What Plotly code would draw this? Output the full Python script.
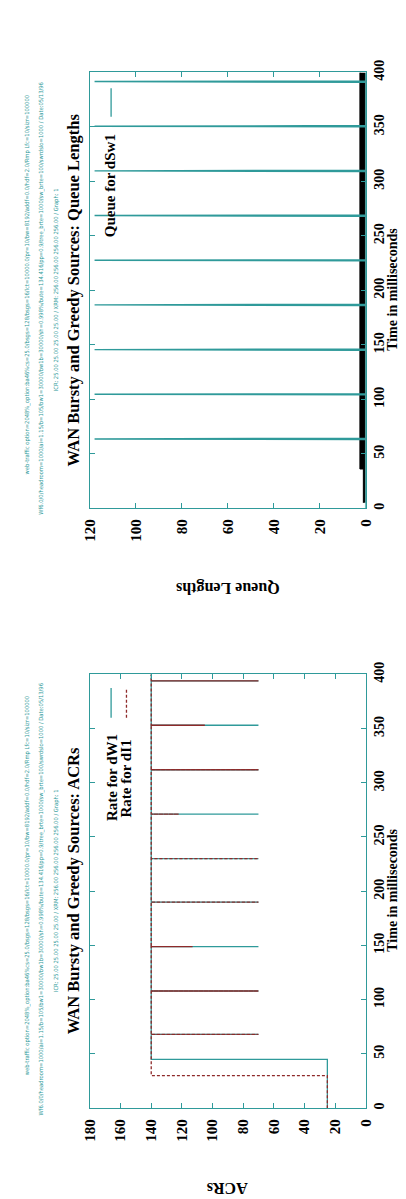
import plotly.graph_objects as go

# ---------------- data ----------------
# ACR chart (time in ms, rate values)
acr_end_time = 400
dW1_start_value = 25
dW1_jump_time = 45
dW1_steady = 140
dI1_start_value = 25
dI1_jump_time = 30
dI1_steady = 140
acr_spike_times = [68, 108, 149, 190, 230, 271, 312, 353, 394]
dW1_spike_lows = [70, 70, 70, 70, 70, 70, 70, 70, 70]
dI1_spike_lows = [70, 70, 113, 70, 70, 122, 70, 105, 70]

# Queue chart
queue_spike_times = [63, 104, 145, 186, 227, 268, 309, 350, 391]
queue_spike_peaks = [118, 118, 118, 118, 118, 118, 118, 118, 118]
queue_spike_width = 1.2
base_queue_times = [5, 36, 36, 400]
base_queue_values = [1, 1, 2.5, 2.5]

acr_ticks = [0, 20, 40, 60, 80, 100, 120, 140, 160, 180]
queue_ticks = [0, 20, 40, 60, 80, 100, 120]
time_ticks = [0, 50, 100, 150, 200, 250, 300, 350, 400]

W, H = 406, 1199
TEAL = "#2f9a9a"
RED = "#8e2a2a"
SERIF = "Liberation Serif"


def X(px):
    return px / W


def Y(py):
    return 1 - py / H


def step_series(start_val, jump_t, steady, spikes, lows, end_t):
    t = [0, jump_t, jump_t]
    v = [start_val, start_val, steady]
    for st, lo in zip(spikes, lows):
        t += [st, st, st]
        v += [steady, lo, steady]
    t.append(end_t)
    v.append(steady)
    return t, v


def queue_series(times, peaks, width):
    t = [0]
    v = [0]
    for st, pk in zip(times, peaks):
        t += [st, st + width / 2, st + width]
        v += [0, pk, 0]
    t.append(400)
    v.append(0)
    return t, v


fig = go.Figure()

# ---- ACR chart (bottom) ----
tw, vw = step_series(dW1_start_value, dW1_jump_time, dW1_steady, acr_spike_times, dW1_spike_lows, acr_end_time)
ti, vi = step_series(dI1_start_value, dI1_jump_time, dI1_steady, acr_spike_times, dI1_spike_lows, acr_end_time)
fig.add_trace(go.Scatter(x=vw, y=tw, mode="lines", line=dict(color=TEAL, width=1.3),
                         xaxis="x", yaxis="y", showlegend=False, name="Rate for dW1"))
fig.add_trace(go.Scatter(x=vi, y=ti, mode="lines", line=dict(color=RED, width=1.3, dash="3px,2px"),
                         xaxis="x", yaxis="y", showlegend=False, name="Rate for dI1"))

# ---- Queue chart (top) ----
fig.add_trace(go.Scatter(x=base_queue_values, y=base_queue_times, mode="lines",
                         line=dict(color="black", width=1), fill="tozerox", fillcolor="black",
                         xaxis="x2", yaxis="y2", showlegend=False))
tq, vq = queue_series(queue_spike_times, queue_spike_peaks, queue_spike_width)
fig.add_trace(go.Scatter(x=vq, y=tq, mode="lines", line=dict(color=TEAL, width=1.4),
                         xaxis="x2", yaxis="y2", showlegend=False, name="Queue for dSw1"))

tickfont = dict(family=SERIF, size=15, color="black", weight="bold")
timefont = dict(family=SERIF, size=14, color="black", weight="bold")
common_axis = dict(showline=True, linecolor=TEAL, linewidth=1.2, mirror="ticks", ticks="inside",
                   ticklen=5, tickcolor=TEAL, showgrid=False, zeroline=False, tickangle=-90,
                   tickfont=tickfont)

fig.update_layout(
    width=W, height=H, margin=dict(l=0, r=0, t=0, b=0),
    paper_bgcolor="white", plot_bgcolor="white",
    xaxis=dict(common_axis, range=[180, 0], domain=[X(77), X(364)], anchor="y",
               tickvals=acr_ticks, ticklabelstandoff=4),
    yaxis=dict(common_axis, range=[0, 400], domain=[Y(1100), Y(661)], anchor="x", side="right",
               tickvals=time_ticks, ticklabelstandoff=0, tickfont=timefont),
    xaxis2=dict(common_axis, range=[120, 0], domain=[X(77), X(364)], anchor="y2",
                tickvals=queue_ticks, ticklabelstandoff=4),
    yaxis2=dict(common_axis, range=[0, 400], domain=[Y(493), Y(52)], anchor="x2", side="right",
                tickvals=time_ticks, ticklabelstandoff=0, tickfont=timefont),
)

ann = []


def add_text(text, px, py, size, angle=-90, bold=True, color="black", family=SERIF):
    ann.append(dict(text=text, x=X(px), y=Y(py), xref="paper", yref="paper",
                    showarrow=False, textangle=angle, xanchor="center", yanchor="middle",
                    font=dict(family=family, size=size, color=color,
                              weight="bold" if bold else "normal")))


hdr1 = ("web-traffic option=2048%_option:ba46%cs=25.0/bsgs=128/bsgs=16/lct=10000.0/pr=10/"
        "bw=8192/addf=0.0/hdf=2.0/Rmp Lfc=10/sizr=100000")
hdr2 = ("Wf6.0/0/headroom=1000/ai=1.15/b=105/bw1=30000/bw1b=30000/sh=0.998%/bute=134.416/"
        "pp=0.9/tree_brte=1000/sw_brte=100/swrdslo=1000 / Date:05/13/96")
hdr3 = "ICR: 25.00 25.00 25.00 25.00 / XRM: 256.00 256.00 256.00 256.00 / Graph: 1"

for off, title, ylab in [(608, "WAN Bursty and Greedy Sources: ACRs", "ACRs"),
                         (0, "WAN Bursty and Greedy Sources: Queue Lengths", "Queue Lengths")]:
    cy = 272 + off
    add_text(hdr1, 12, cy - 5, 5.8, bold=False, color=TEAL, family="DejaVu Sans Condensed")
    add_text(hdr2, 27, cy + 8, 5.8, bold=False, color=TEAL, family="DejaVu Sans Condensed")
    add_text(hdr3, 42, cy, 5.8, bold=False, color=TEAL, family="DejaVu Sans Condensed")
    add_text(title, 60, cy, 16.5)
    add_text("Time in milliseconds", 392.5, cy, 14)
    add_text(ylab, 220, (1182 if off else 573), 16, angle=180)

# legends
add_text("Rate for dW1", 100, 766, 15)
add_text("Rate for dI1", 115, 766, 15)
add_text("Queue for dSw1", 98, 167, 15)

shapes = [
    dict(type="line", xref="paper", yref="paper", x0=X(99), x1=X(99), y0=Y(705), y1=Y(675),
         line=dict(color=TEAL, width=1.3)),
    dict(type="line", xref="paper", yref="paper", x0=X(115), x1=X(115), y0=Y(705), y1=Y(675),
         line=dict(color=RED, width=1.3, dash="3px,2px")),
    dict(type="line", xref="paper", yref="paper", x0=X(99), x1=X(99), y0=Y(97), y1=Y(68),
         line=dict(color=TEAL, width=1.3)),
]

fig.update_layout(annotations=ann, shapes=shapes)
fig.write_html("out.html")
